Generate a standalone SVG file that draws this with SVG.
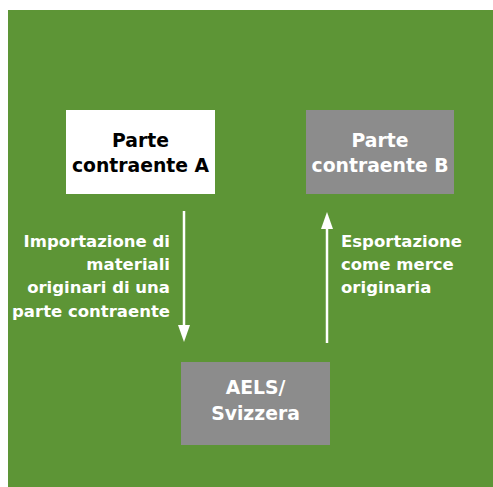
<svg xmlns="http://www.w3.org/2000/svg" width="493" height="487" viewBox="0 0 493 487">
<style>
.bg{fill:#5d9536}
.box-w{fill:#ffffff}
.box-g{fill:#8c8c8c}
text{font-family:"DejaVu Sans","Open Sans",sans-serif;font-weight:bold}
.t-dark{fill:#000000;font-size:18.8px;text-anchor:middle}
.t-light{fill:#ffffff;font-size:18.8px;text-anchor:middle}
.lbl{fill:#ffffff;font-size:16.5px}
.conn{stroke:#ffffff;stroke-width:2.5;fill:none}
.head{fill:#ffffff}
</style>
<rect x="0" y="0" width="493" height="487" fill="#ffffff"/>
<rect class="bg" x="8" y="10" width="485" height="477"/>
<g id="nodeA">
<rect class="box-w" x="66" y="110" width="149" height="84"/>
<text class="t-dark" x="140.5" y="147">Parte</text>
<text class="t-dark" x="140.5" y="172">contraente A</text>
</g>
<g id="nodeB">
<rect class="box-g" x="306" y="110" width="148" height="84"/>
<text class="t-light" x="380" y="147">Parte</text>
<text class="t-light" x="380" y="172">contraente B</text>
</g>
<g id="nodeC">
<rect class="box-g" x="181" y="362" width="149" height="83"/>
<text class="t-light" x="255.5" y="394">AELS/</text>
<text class="t-light" x="255.5" y="420">Svizzera</text>
</g>
<g id="connectors">
<line class="conn" x1="184" y1="211" x2="184" y2="328"/>
<path class="head" d="M178,325 L190,325 L184,342 Z"/>
<line class="conn" x1="327" y1="343" x2="327" y2="226"/>
<path class="head" d="M321,229 L333,229 L327,212 Z"/>
</g>
<g id="labels">
<text class="lbl" text-anchor="end" x="170" y="247">Importazione di</text>
<text class="lbl" text-anchor="end" x="170" y="270">materiali</text>
<text class="lbl" text-anchor="end" x="170" y="293">originari di una</text>
<text class="lbl" text-anchor="end" x="170" y="317">parte contraente</text>
<text class="lbl" x="341" y="247">Esportazione</text>
<text class="lbl" x="341" y="270">come merce</text>
<text class="lbl" x="341" y="293">originaria</text>
</g>
</svg>
